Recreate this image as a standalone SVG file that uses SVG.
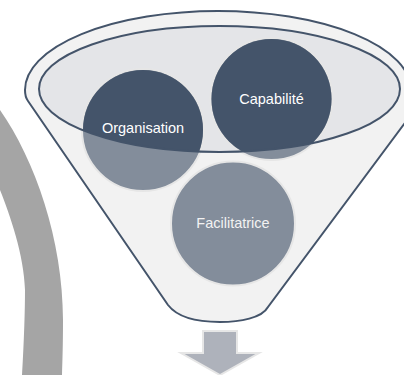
<svg xmlns="http://www.w3.org/2000/svg" width="404" height="375" viewBox="0 0 404 375">
<style>
.lbl{font-family:"Liberation Sans",Arial,sans-serif;font-size:14.5px;text-anchor:middle}
.ring{stroke:#E6E6E6;stroke-width:2}
.edge{fill:none;stroke:#44546A;stroke-width:2}
</style>
<defs>
<clipPath id="bowl"><ellipse cx="219.5" cy="89" rx="180.5" ry="63"/></clipPath>
</defs>
<rect width="404" height="375" fill="#FFFFFF"/>
<g id="arc">
<path d="M0,110 C35,160 63,240 63,320 C63,345 62.5,360 62,375 L22,375 C24,340 25,310 25,290 C24,255 10,215 0,190 Z" fill="#A5A5A5"/>
</g>
<g id="funnel">
<path d="M168,305 L28,101 Q25,97 25,90 A193 79 0 0 1 411,90 Q412,100 413,112 L268,307 C262,318 240,322 220,322 C200,322 178,318 168,305 Z" fill="#F2F2F2" stroke="#44546A" stroke-width="2"/>
<ellipse cx="219.5" cy="89" rx="180.5" ry="63" fill="#E4E5E8"/>
</g>
<g id="organisation">
<circle cx="143" cy="130" r="61" fill="#838D9B" class="ring"/>
<circle cx="143" cy="130" r="60" fill="#44546A" clip-path="url(#bowl)"/>
</g>
<g id="capabilite">
<circle cx="271.5" cy="99" r="61" fill="#838D9B" class="ring"/>
<circle cx="271.5" cy="99" r="60" fill="#44546A" clip-path="url(#bowl)"/>
</g>
<g id="facilitatrice">
<circle cx="233" cy="223.5" r="62" fill="#838D9B" class="ring"/>
</g>
<g id="bowl-edge">
<ellipse cx="219.5" cy="89" rx="180.5" ry="63" class="edge"/>
</g>
<g id="labels">
<text class="lbl" x="143" y="133" fill="#FFFFFF">Organisation</text>
<text class="lbl" x="271.5" y="104" fill="#FFFFFF">Capabilité</text>
<text class="lbl" x="233" y="228" fill="#F2F2F2">Facilitatrice</text>
</g>
<g id="connectors">
<path d="M203,331 L237,331 L237,353 L259,353 L220,375 L181,353 L203,353 Z" fill="#AEB2BB" stroke="#E6E6E6" stroke-width="2"/>
</g>
</svg>
